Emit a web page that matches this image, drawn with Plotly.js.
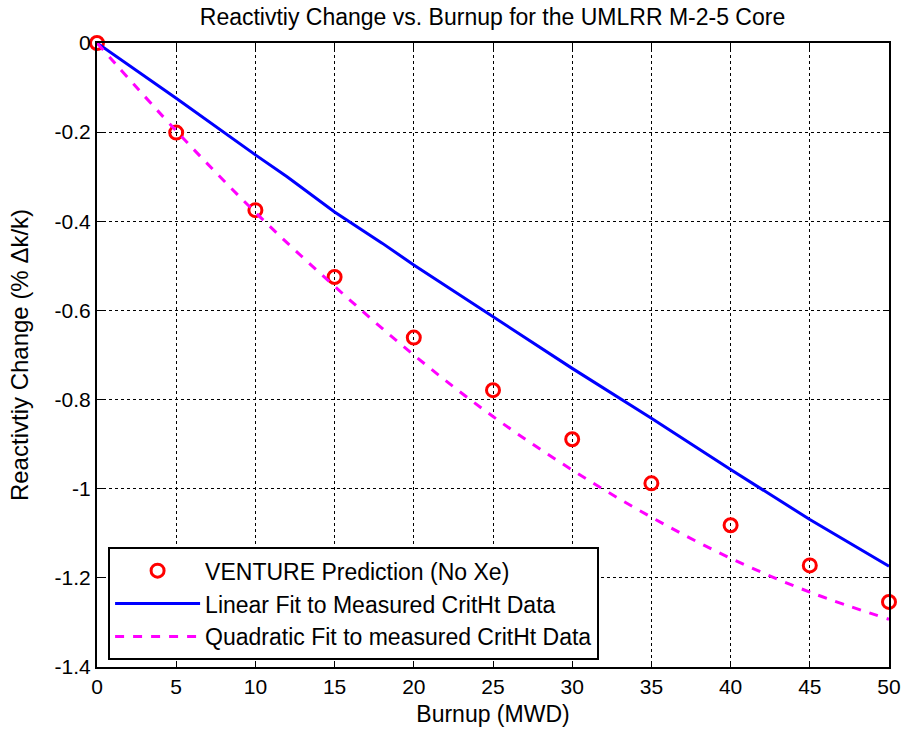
<!DOCTYPE html>
<html><head><meta charset="utf-8">
<script src="https://cdn.plot.ly/plotly-3.0.1.min.js"></script>
<style>html,body{margin:0;padding:0;background:#fff;}#chart{width:906px;height:735px;}</style>
</head><body><div id="chart"></div>
<script>
const ventureX = [0,5,10,15,20,25,30,35,40,45,50];
const ventureY = [0,-0.201,-0.375,-0.525,-0.661,-0.779,-0.889,-0.988,-1.082,-1.172,-1.254];
const linearX = [0,5,10,12,15,18,20,25,30,35,40,45,50];
const linearY = [0,-0.124,-0.251,-0.300,-0.379,-0.449,-0.498,-0.614,-0.730,-0.842,-0.957,-1.069,-1.174];
const quadX = [0,5,10,15,20,25,30,35,40,45,50];
const quadY = [0,-0.197,-0.380,-0.546,-0.700,-0.838,-0.958,-1.064,-1.156,-1.232,-1.293];
const yTickVals = [0,-0.2,-0.4,-0.6,-0.8,-1,-1.2,-1.4];
const yTickText = ["0","-0.2","-0.4","-0.6","-0.8","-1","-1.2","-1.4"];
const xTickVals = [0,5,10,15,20,25,30,35,40,45,50];

const font = "Liberation Sans, Arial, sans-serif";
const traces = [
  {x: ventureX, y: ventureY, type:'scatter', mode:'markers', name:'VENTURE Prediction (No Xe)',
   marker:{symbol:'circle-open', size:13, color:'#ff0000', line:{width:3, color:'#ff0000'}}, cliponaxis:false},
  {x: linearX, y: linearY, type:'scatter', mode:'lines', name:'Linear Fit to Measured CritHt Data',
   line:{color:'#0000ff', width:3}},
  {x: quadX, y: quadY, type:'scatter', mode:'lines', name:'Quadratic Fit to measured CritHt Data',
   line:{color:'#ff00ff', width:3, dash:'dash', shape:'spline'}}
];
const axisCommon = {showline:true, linecolor:'#000', linewidth:2, mirror:'ticks', ticks:'inside', ticklen:6,
  tickcolor:'#000', tickwidth:1, showgrid:true, gridcolor:'#000', griddash:'dot', gridwidth:1, zeroline:false,
  tickfont:{family:font, size:21, color:'#000'}};
const layout = {
  width:906, height:735, paper_bgcolor:'#fff', plot_bgcolor:'#fff',
  margin:{l:97, r:17, t:43, b:68},
  title:{text:'Reactivtiy Change vs. Burnup for the UMLRR M-2-5 Core', x:0.5436, xanchor:'center', y:0.977, yanchor:'middle',
    font:{family:font, size:23, color:'#000'}},
  xaxis: Object.assign({}, axisCommon, {range:[0,50], tickvals:xTickVals,
    title:{text:'Burnup (MWD)', font:{family:font, size:23, color:'#000'}, standoff:9}}),
  yaxis: Object.assign({}, axisCommon, {range:[-1.4,0], tickvals:yTickVals, ticktext:yTickText,
    title:{text:'Reactivtiy Change (% \u0394k/k)', font:{family:font, size:24, color:'#000'}, standoff:19}}),
  showlegend:true,
  legend:{x:0.014, y:0.192, xanchor:'left', yanchor:'top', bgcolor:'#fff', bordercolor:'#000', borderwidth:2,
    font:{family:font, size:23, color:'#000'}, tracegroupgap:0, itemwidth:85}
};
Plotly.newPlot('chart', traces, layout, {displayModeBar:false});
</script></body></html>
